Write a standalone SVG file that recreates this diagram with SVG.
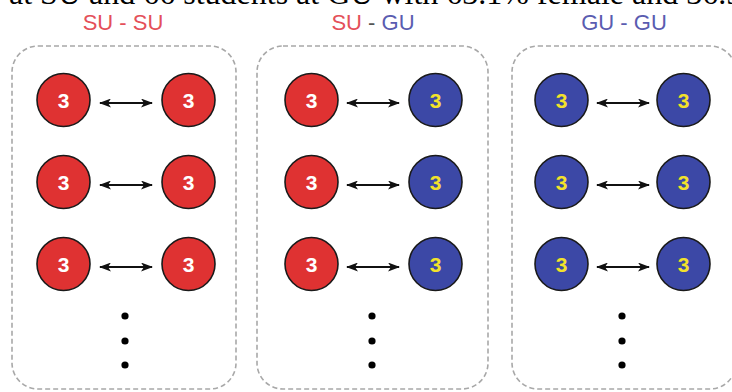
<svg xmlns="http://www.w3.org/2000/svg" width="732" height="392" viewBox="0 0 732 392">
<style>
.panel{fill:none;stroke:#a8a8a8;stroke-width:1.6;stroke-dasharray:5 3}
.lbl{font-family:"Liberation Sans",Arial,sans-serif;font-size:22px;text-anchor:middle}
.red{fill:#e4505a}
.blue{fill:#5a5cb0}
.dash{fill:#555}
.cr{fill:#df3232;stroke:#1a1a1a;stroke-width:1.6}
.cb{fill:#3c48a6;stroke:#1a1a1a;stroke-width:1.6}
.num{font-family:"Liberation Sans",Arial,sans-serif;font-size:21px;font-weight:bold;text-anchor:middle}
.nw{fill:#ffffff}
.ny{fill:#f2e22a}
.arr{stroke:#111;stroke-width:2;fill:none;marker-start:url(#ah);marker-end:url(#ah)}
.dot{fill:#000}
</style>
<defs>
<marker id="ah" viewBox="0 0 12 9" refX="11" refY="4.5" markerWidth="12" markerHeight="9" markerUnits="userSpaceOnUse" orient="auto-start-reverse">
<path d="M0,0 L12,4.5 L0,9 L3,4.5 Z" fill="#111"/>
</marker>
</defs>
<rect width="732" height="392" fill="#ffffff"/>
<text x="9" y="4" font-family="'Liberation Serif','Times New Roman',serif" font-size="32" fill="#000">at SU and 66 students at GU with 63.1% female and 36.9</text>

<g id="panel-su-su">
<rect class="panel" x="12" y="46" width="224" height="343" rx="26"/>
<text class="lbl red" x="123" y="30">SU - SU</text>
</g>
<g id="panel-su-gu">
<rect class="panel" x="257" y="46" width="231" height="343" rx="26"/>
<text class="lbl" x="373" y="30"><tspan class="red">SU</tspan><tspan class="dash"> - </tspan><tspan class="blue">GU</tspan></text>
</g>
<g id="panel-gu-gu">
<rect class="panel" x="512" y="46" width="224" height="343" rx="26"/>
<text class="lbl blue" x="624" y="30">GU - GU</text>
</g>

<g id="connectors">
<line class="arr" x1="100" y1="103" x2="152" y2="103"/>
<line class="arr" x1="100" y1="185" x2="152" y2="185"/>
<line class="arr" x1="100" y1="267" x2="152" y2="267"/>
<line class="arr" x1="347" y1="103" x2="399" y2="103"/>
<line class="arr" x1="347" y1="185" x2="399" y2="185"/>
<line class="arr" x1="347" y1="267" x2="399" y2="267"/>
<line class="arr" x1="597" y1="103" x2="649" y2="103"/>
<line class="arr" x1="597" y1="185" x2="649" y2="185"/>
<line class="arr" x1="597" y1="267" x2="649" y2="267"/>
</g>

<g id="n-a1"><circle class="cr" cx="63.5" cy="100" r="26.5"/><text class="num nw" x="63.5" y="107.5">3</text></g>
<g id="n-a2"><circle class="cr" cx="188.5" cy="100" r="26.5"/><text class="num nw" x="188.5" y="107.5">3</text></g>
<g id="n-a3"><circle class="cr" cx="63.5" cy="182" r="26.5"/><text class="num nw" x="63.5" y="189.5">3</text></g>
<g id="n-a4"><circle class="cr" cx="188.5" cy="182" r="26.5"/><text class="num nw" x="188.5" y="189.5">3</text></g>
<g id="n-a5"><circle class="cr" cx="63.5" cy="264" r="26.5"/><text class="num nw" x="63.5" y="271.5">3</text></g>
<g id="n-a6"><circle class="cr" cx="188.5" cy="264" r="26.5"/><text class="num nw" x="188.5" y="271.5">3</text></g>

<g id="n-b1"><circle class="cr" cx="311.5" cy="100" r="26.5"/><text class="num nw" x="311.5" y="107.5">3</text></g>
<g id="n-b2"><circle class="cb" cx="435.5" cy="100" r="26.5"/><text class="num ny" x="435.5" y="107.5">3</text></g>
<g id="n-b3"><circle class="cr" cx="311.5" cy="182" r="26.5"/><text class="num nw" x="311.5" y="189.5">3</text></g>
<g id="n-b4"><circle class="cb" cx="435.5" cy="182" r="26.5"/><text class="num ny" x="435.5" y="189.5">3</text></g>
<g id="n-b5"><circle class="cr" cx="311.5" cy="264" r="26.5"/><text class="num nw" x="311.5" y="271.5">3</text></g>
<g id="n-b6"><circle class="cb" cx="435.5" cy="264" r="26.5"/><text class="num ny" x="435.5" y="271.5">3</text></g>

<g id="n-c1"><circle class="cb" cx="561.5" cy="100" r="26.5"/><text class="num ny" x="561.5" y="107.5">3</text></g>
<g id="n-c2"><circle class="cb" cx="683.5" cy="100" r="26.5"/><text class="num ny" x="683.5" y="107.5">3</text></g>
<g id="n-c3"><circle class="cb" cx="561.5" cy="182" r="26.5"/><text class="num ny" x="561.5" y="189.5">3</text></g>
<g id="n-c4"><circle class="cb" cx="683.5" cy="182" r="26.5"/><text class="num ny" x="683.5" y="189.5">3</text></g>
<g id="n-c5"><circle class="cb" cx="561.5" cy="264" r="26.5"/><text class="num ny" x="561.5" y="271.5">3</text></g>
<g id="n-c6"><circle class="cb" cx="683.5" cy="264" r="26.5"/><text class="num ny" x="683.5" y="271.5">3</text></g>

<g id="ellipsis">
<circle class="dot" cx="125" cy="316" r="3.6"/><circle class="dot" cx="125" cy="341" r="3.6"/><circle class="dot" cx="125" cy="365" r="3.6"/>
<circle class="dot" cx="372" cy="316" r="3.6"/><circle class="dot" cx="372" cy="341" r="3.6"/><circle class="dot" cx="372" cy="365" r="3.6"/>
<circle class="dot" cx="622" cy="316" r="3.6"/><circle class="dot" cx="622" cy="341" r="3.6"/><circle class="dot" cx="622" cy="365" r="3.6"/>
</g>
</svg>
